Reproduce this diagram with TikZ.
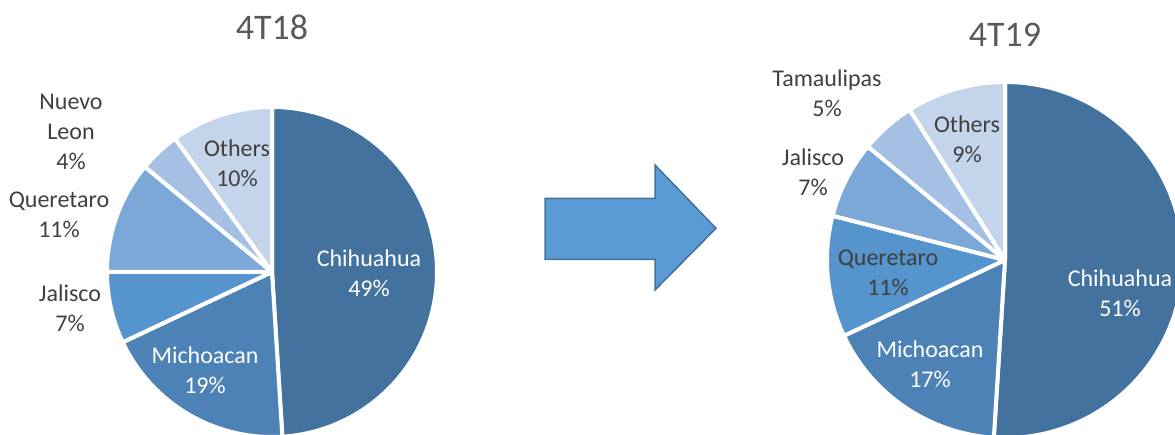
\documentclass[tikz,border=0pt]{standalone}
\usepackage{fontspec}
\setmainfont{Carlito}
\definecolor{cChi}{HTML}{43729E}
\definecolor{cMic}{HTML}{4C82B6}
\definecolor{cMid}{HTML}{5594CC}
\definecolor{cLgt}{HTML}{7CA8D8}
\definecolor{cPale}{HTML}{A6C0E3}
\definecolor{cOth}{HTML}{C4D4EA}
\definecolor{labelgray}{HTML}{404040}
\definecolor{titlegray}{HTML}{595959}
\definecolor{arrowfill}{HTML}{5B9BD5}
\definecolor{arrowline}{HTML}{41719C}
\newcommand{\pslice}[5]{\filldraw[slice, fill=#5] (#1) -- ++(#3:#2) arc[start angle=#3, end angle=#4, radius=#2] -- cycle;}
\begin{document}
\begin{tikzpicture}[x=1pt,y=1pt,
  lbl/.style={text=labelgray, font=\fontsize{24}{30}\selectfont, align=center, inner sep=0pt},
  wlbl/.style={lbl, text=white},
  ttl/.style={text=titlegray, font=\fontsize{36}{40}\selectfont, inner sep=0pt},
  slice/.style={draw=white, line width=4pt, line join=round},
  bigarrow/.style={fill=arrowfill, draw=arrowline, line width=1.5pt, line join=miter}]
\useasboundingbox (0,0) rectangle (1175,434);
\clip (0,0) rectangle (1175,434);
% left pie
\coordinate (L) at (272,162);
\pslice{L}{165pt}{90}{-86.4}{cChi}
\pslice{L}{165pt}{-86.4}{-154.8}{cMic}
\pslice{L}{165pt}{-154.8}{-180}{cMid}
\pslice{L}{165pt}{-180}{-219.6}{cLgt}
\pslice{L}{165pt}{-219.6}{-234}{cPale}
\pslice{L}{165pt}{-234}{-270}{cOth}
% right pie
\coordinate (R) at (1005,174);
\pslice{R}{178pt}{90}{-93.6}{cChi}
\pslice{R}{178pt}{-93.6}{-154.8}{cMic}
\pslice{R}{178pt}{-154.8}{-194.4}{cMid}
\pslice{R}{178pt}{-194.4}{-219.6}{cLgt}
\pslice{R}{178pt}{-219.6}{-237.6}{cPale}
\pslice{R}{178pt}{-237.6}{-270}{cOth}
% titles
\node[ttl] (t1) at (272,407) {4T18};
\node[ttl] (t2) at (1005,399) {4T19};
% left labels
\node[lbl] (lnl) at (71,302) {Nuevo\\Leon\\4\%};
\node[lbl] (lqu) at (59,219) {Queretaro\\11\%};
\node[lbl] (lja) at (70,126) {Jalisco\\7\%};
\node[lbl] (lot) at (237,271) {Others\\10\%};
\node[wlbl] (lch) at (369,161) {Chihuahua\\49\%};
\node[wlbl] (lmi) at (205,63.5) {Michoacan\\19\%};
% right labels
\node[lbl] (rta) at (827,341) {Tamaulipas\\5\%};
\node[lbl] (rja) at (813,262) {Jalisco\\7\%};
\node[lbl] (rot) at (967,294.5) {Others\\9\%};
\node[lbl] (rqu) at (888,161.5) {Queretaro\\11\%};
\node[wlbl] (rch) at (1120,141) {Chihuahua\\51\%};
\node[wlbl] (rmi) at (930,69.5) {Michoacan\\17\%};
% arrow
\draw[bigarrow] (545,235.7) -- (655,235.7) -- (655,269) -- (716,205.7) -- (655,144) -- (655,174.7) -- (545,174.7) -- cycle;
\end{tikzpicture}
\end{document}
